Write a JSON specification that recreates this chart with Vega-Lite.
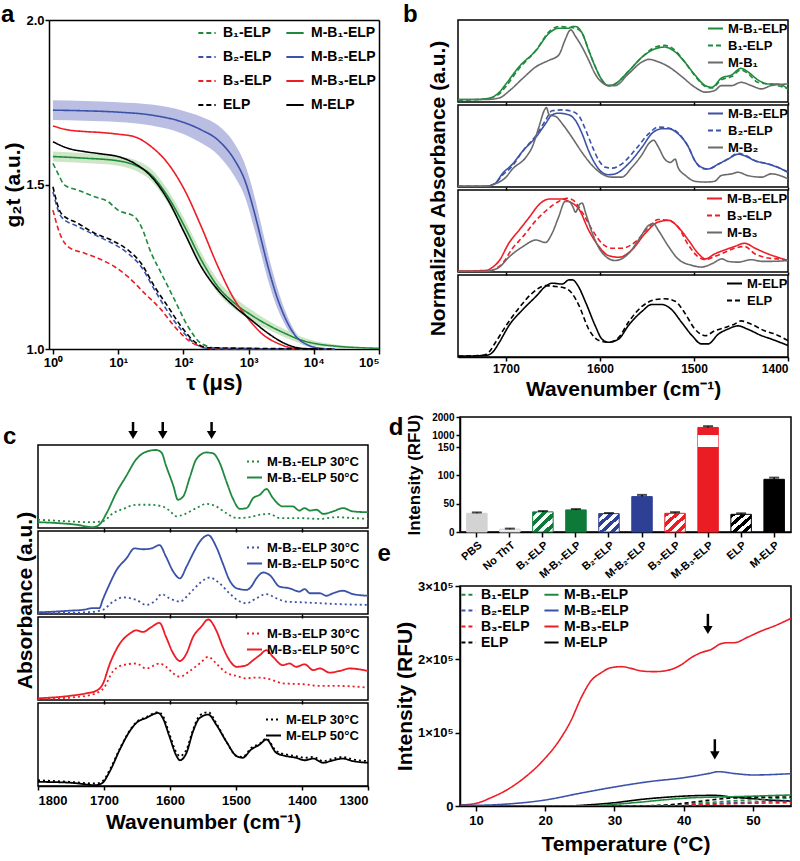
{
  "$schema": "https://vega.github.io/schema/vega-lite/v6.json",
  "background": "white",
  "padding": {"left": 0, "top": 2, "right": 0, "bottom": 0},
  "config": {
    "font": "Liberation Sans",
    "view": {"stroke": "#000000", "strokeWidth": 1.5},
    "axis": {"labelFont": "Liberation Sans", "titleFont": "Liberation Sans", "labelFontWeight": "bold", "titleFontWeight": "bold", "labelColor": "#000000", "titleColor": "#000000", "domainColor": "#000000", "tickColor": "#000000", "domainWidth": 1.5, "tickWidth": 1.5, "grid": false, "labelOverlap": false},
    "legend": {"labelFont": "Liberation Sans", "labelFontWeight": "bold", "labelColor": "#000000", "symbolType": "stroke", "symbolStrokeWidth": 2},
    "title": {"font": "Liberation Sans", "fontWeight": "bold", "fontSize": 24, "anchor": "start", "frame": "bounds", "offset": 0, "color": "#000000"}
  },
  "datasets": {
    "aL": [
      {"s":"B₁-ELP","t":1,"g":1.564},{"s":"B₁-ELP","t":1.19,"g":1.534},{"s":"B₁-ELP","t":1.51,"g":1.498},{"s":"B₁-ELP","t":2.42,"g":1.483},{"s":"B₁-ELP","t":4.36,"g":1.463},{"s":"B₁-ELP","t":6.98,"g":1.448},{"s":"B₁-ELP","t":9.93,"g":1.422},{"s":"B₁-ELP","t":17.9,"g":1.402},{"s":"B₁-ELP","t":22.6,"g":1.372},{"s":"B₁-ELP","t":32.2,"g":1.291},{"s":"B₁-ELP","t":45.9,"g":1.23},{"s":"B₁-ELP","t":73.5,"g":1.149},{"s":"B₁-ELP","t":118,"g":1.068},{"s":"B₁-ELP","t":188,"g":1.017},{"s":"B₁-ELP","t":340,"g":1.002},{"s":"B₁-ELP","t":20900,"g":1.0},
      {"s":"M-B₁-ELP","t":1,"g":1.585},{"s":"M-B₁-ELP","t":3.06,"g":1.58},{"s":"M-B₁-ELP","t":9.93,"g":1.572},{"s":"M-B₁-ELP","t":17.9,"g":1.559},{"s":"M-B₁-ELP","t":32.2,"g":1.529},{"s":"M-B₁-ELP","t":58,"g":1.463},{"s":"M-B₁-ELP","t":104.5,"g":1.372},{"s":"M-B₁-ELP","t":188,"g":1.271},{"s":"M-B₁-ELP","t":340,"g":1.189},{"s":"M-B₁-ELP","t":611,"g":1.139},{"s":"M-B₁-ELP","t":1102,"g":1.103},{"s":"M-B₁-ELP","t":1985,"g":1.073},{"s":"M-B₁-ELP","t":3575,"g":1.048},{"s":"M-B₁-ELP","t":6440,"g":1.027},{"s":"M-B₁-ELP","t":11600,"g":1.015},{"s":"M-B₁-ELP","t":20900,"g":1.009},{"s":"M-B₁-ELP","t":100000,"g":1.002},
      {"s":"B₂-ELP","t":1,"g":1.478},{"s":"B₂-ELP","t":1.34,"g":1.402},{"s":"B₂-ELP","t":2.42,"g":1.372},{"s":"B₂-ELP","t":4.36,"g":1.347},{"s":"B₂-ELP","t":7.85,"g":1.323},{"s":"B₂-ELP","t":14.1,"g":1.291},{"s":"B₂-ELP","t":22.6,"g":1.25},{"s":"B₂-ELP","t":36.3,"g":1.179},{"s":"B₂-ELP","t":58,"g":1.113},{"s":"B₂-ELP","t":93,"g":1.058},{"s":"B₂-ELP","t":149,"g":1.017},{"s":"B₂-ELP","t":238,"g":1.002},{"s":"B₂-ELP","t":20900,"g":1.0},
      {"s":"M-B₂-ELP","t":1,"g":1.726},{"s":"M-B₂-ELP","t":3.06,"g":1.724},{"s":"M-B₂-ELP","t":9.93,"g":1.72},{"s":"M-B₂-ELP","t":32.2,"g":1.711},{"s":"M-B₂-ELP","t":93,"g":1.691},{"s":"M-B₂-ELP","t":188,"g":1.666},{"s":"M-B₂-ELP","t":340,"g":1.635},{"s":"M-B₂-ELP","t":611,"g":1.574},{"s":"M-B₂-ELP","t":871,"g":1.514},{"s":"M-B₂-ELP","t":1239,"g":1.412},{"s":"M-B₂-ELP","t":1568,"g":1.331},{"s":"M-B₂-ELP","t":1985,"g":1.25},{"s":"M-B₂-ELP","t":2825,"g":1.149},{"s":"M-B₂-ELP","t":3575,"g":1.098},{"s":"M-B₂-ELP","t":5090,"g":1.043},{"s":"M-B₂-ELP","t":8150,"g":1.012},{"s":"M-B₂-ELP","t":13000,"g":1.002},{"s":"M-B₂-ELP","t":20900,"g":1.0},
      {"s":"B₃-ELP","t":1,"g":1.422},{"s":"B₃-ELP","t":1.27,"g":1.352},{"s":"B₃-ELP","t":1.7,"g":1.311},{"s":"B₃-ELP","t":3.06,"g":1.291},{"s":"B₃-ELP","t":4.9,"g":1.276},{"s":"B₃-ELP","t":8.83,"g":1.25},{"s":"B₃-ELP","t":14.1,"g":1.22},{"s":"B₃-ELP","t":25.5,"g":1.169},{"s":"B₃-ELP","t":45.9,"g":1.119},{"s":"B₃-ELP","t":73.5,"g":1.068},{"s":"B₃-ELP","t":118,"g":1.027},{"s":"B₃-ELP","t":188,"g":1.007},{"s":"B₃-ELP","t":340,"g":1.0},{"s":"B₃-ELP","t":20900,"g":1.0},
      {"s":"M-B₃-ELP","t":1,"g":1.678},{"s":"M-B₃-ELP","t":1.7,"g":1.666},{"s":"M-B₃-ELP","t":3.06,"g":1.661},{"s":"M-B₃-ELP","t":5.51,"g":1.658},{"s":"M-B₃-ELP","t":9.93,"g":1.653},{"s":"M-B₃-ELP","t":17.9,"g":1.645},{"s":"M-B₃-ELP","t":32.2,"g":1.615},{"s":"M-B₃-ELP","t":58,"g":1.564},{"s":"M-B₃-ELP","t":104.5,"g":1.483},{"s":"M-B₃-ELP","t":188,"g":1.372},{"s":"M-B₃-ELP","t":340,"g":1.25},{"s":"M-B₃-ELP","t":611,"g":1.149},{"s":"M-B₃-ELP","t":979,"g":1.093},{"s":"M-B₃-ELP","t":1568,"g":1.048},{"s":"M-B₃-ELP","t":2825,"g":1.017},{"s":"M-B₃-ELP","t":5090,"g":1.002},{"s":"M-B₃-ELP","t":8150,"g":1.0},
      {"s":"ELP","t":1,"g":1.493},{"s":"ELP","t":1.34,"g":1.412},{"s":"ELP","t":2.42,"g":1.382},{"s":"ELP","t":4.36,"g":1.352},{"s":"ELP","t":7.85,"g":1.331},{"s":"ELP","t":14.1,"g":1.301},{"s":"ELP","t":22.6,"g":1.26},{"s":"ELP","t":36.3,"g":1.189},{"s":"ELP","t":58,"g":1.129},{"s":"ELP","t":93,"g":1.068},{"s":"ELP","t":149,"g":1.022},{"s":"ELP","t":238,"g":1.004},{"s":"ELP","t":20900,"g":1.0},
      {"s":"M-ELP","t":1,"g":1.63},{"s":"M-ELP","t":1.7,"g":1.61},{"s":"M-ELP","t":3.06,"g":1.6},{"s":"M-ELP","t":5.51,"g":1.593},{"s":"M-ELP","t":9.93,"g":1.585},{"s":"M-ELP","t":17.9,"g":1.564},{"s":"M-ELP","t":32.2,"g":1.524},{"s":"M-ELP","t":58,"g":1.453},{"s":"M-ELP","t":104.5,"g":1.352},{"s":"M-ELP","t":188,"g":1.25},{"s":"M-ELP","t":340,"g":1.179},{"s":"M-ELP","t":611,"g":1.129},{"s":"M-ELP","t":1102,"g":1.088},{"s":"M-ELP","t":1985,"g":1.048},{"s":"M-ELP","t":3575,"g":1.017},{"s":"M-ELP","t":6440,"g":1.002},{"s":"M-ELP","t":11600,"g":1.0}
    ],
    "aB": [
      {"s":"M-B₂-ELP","t":1,"lo":1.696,"hi":1.756},{"s":"M-B₂-ELP","t":3.06,"lo":1.694,"hi":1.754},{"s":"M-B₂-ELP","t":9.93,"lo":1.69,"hi":1.75},{"s":"M-B₂-ELP","t":32.2,"lo":1.679,"hi":1.743},{"s":"M-B₂-ELP","t":93,"lo":1.656,"hi":1.726},{"s":"M-B₂-ELP","t":188,"lo":1.626,"hi":1.706},{"s":"M-B₂-ELP","t":340,"lo":1.59,"hi":1.68},{"s":"M-B₂-ELP","t":611,"lo":1.524,"hi":1.624},{"s":"M-B₂-ELP","t":871,"lo":1.464,"hi":1.564},{"s":"M-B₂-ELP","t":1239,"lo":1.362,"hi":1.462},{"s":"M-B₂-ELP","t":1568,"lo":1.286,"hi":1.376},{"s":"M-B₂-ELP","t":1985,"lo":1.21,"hi":1.29},{"s":"M-B₂-ELP","t":2825,"lo":1.119,"hi":1.179},{"s":"M-B₂-ELP","t":3575,"lo":1.076,"hi":1.12},{"s":"M-B₂-ELP","t":5090,"lo":1.031,"hi":1.055},{"s":"M-B₂-ELP","t":8150,"lo":1.007,"hi":1.017},{"s":"M-B₂-ELP","t":13000,"lo":1.0,"hi":1.004},{"s":"M-B₂-ELP","t":20900,"lo":1.0,"hi":1.001},
      {"s":"M-B₁-ELP","t":1,"lo":1.57,"hi":1.6},{"s":"M-B₁-ELP","t":3.06,"lo":1.565,"hi":1.595},{"s":"M-B₁-ELP","t":9.93,"lo":1.557,"hi":1.587},{"s":"M-B₁-ELP","t":17.9,"lo":1.543,"hi":1.575},{"s":"M-B₁-ELP","t":32.2,"lo":1.511,"hi":1.547},{"s":"M-B₁-ELP","t":58,"lo":1.443,"hi":1.483},{"s":"M-B₁-ELP","t":104.5,"lo":1.35,"hi":1.394},{"s":"M-B₁-ELP","t":188,"lo":1.249,"hi":1.293},{"s":"M-B₁-ELP","t":340,"lo":1.169,"hi":1.209},{"s":"M-B₁-ELP","t":611,"lo":1.121,"hi":1.157},{"s":"M-B₁-ELP","t":1102,"lo":1.087,"hi":1.119},{"s":"M-B₁-ELP","t":1985,"lo":1.059,"hi":1.087},{"s":"M-B₁-ELP","t":3575,"lo":1.036,"hi":1.06},{"s":"M-B₁-ELP","t":6440,"lo":1.017,"hi":1.037},{"s":"M-B₁-ELP","t":11600,"lo":1.008,"hi":1.022},{"s":"M-B₁-ELP","t":20900,"lo":1.004,"hi":1.014},{"s":"M-B₁-ELP","t":100000,"lo":1.0,"hi":1.004}
    ],
    "b1": [
      {"s":"M-B₁-ELP","w":1751,"v":0.03},{"s":"M-B₁-ELP","w":1732,"v":0.03},{"s":"M-B₁-ELP","w":1721,"v":0.04},{"s":"M-B₁-ELP","w":1714,"v":0.06},{"s":"M-B₁-ELP","w":1707,"v":0.12},{"s":"M-B₁-ELP","w":1700,"v":0.22},{"s":"M-B₁-ELP","w":1686,"v":0.43},{"s":"M-B₁-ELP","w":1668,"v":0.63},{"s":"M-B₁-ELP","w":1654,"v":0.84},{"s":"M-B₁-ELP","w":1644,"v":0.9},{"s":"M-B₁-ELP","w":1633,"v":0.9},{"s":"M-B₁-ELP","w":1629,"v":0.92},{"s":"M-B₁-ELP","w":1626,"v":0.92},{"s":"M-B₁-ELP","w":1619,"v":0.84},{"s":"M-B₁-ELP","w":1612,"v":0.63},{"s":"M-B₁-ELP","w":1605,"v":0.43},{"s":"M-B₁-ELP","w":1598,"v":0.27},{"s":"M-B₁-ELP","w":1591,"v":0.2},{"s":"M-B₁-ELP","w":1584,"v":0.22},{"s":"M-B₁-ELP","w":1570,"v":0.37},{"s":"M-B₁-ELP","w":1555,"v":0.55},{"s":"M-B₁-ELP","w":1541,"v":0.65},{"s":"M-B₁-ELP","w":1531,"v":0.67},{"s":"M-B₁-ELP","w":1520,"v":0.61},{"s":"M-B₁-ELP","w":1510,"v":0.49},{"s":"M-B₁-ELP","w":1499,"v":0.33},{"s":"M-B₁-ELP","w":1488,"v":0.2},{"s":"M-B₁-ELP","w":1481,"v":0.18},{"s":"M-B₁-ELP","w":1471,"v":0.29},{"s":"M-B₁-ELP","w":1460,"v":0.33},{"s":"M-B₁-ELP","w":1450,"v":0.41},{"s":"M-B₁-ELP","w":1443,"v":0.37},{"s":"M-B₁-ELP","w":1432,"v":0.27},{"s":"M-B₁-ELP","w":1421,"v":0.22},{"s":"M-B₁-ELP","w":1411,"v":0.22},{"s":"M-B₁-ELP","w":1400,"v":0.16},
      {"s":"B₁-ELP","w":1751,"v":0.02},{"s":"B₁-ELP","w":1721,"v":0.04},{"s":"B₁-ELP","w":1707,"v":0.1},{"s":"B₁-ELP","w":1700,"v":0.19},{"s":"B₁-ELP","w":1686,"v":0.41},{"s":"B₁-ELP","w":1668,"v":0.63},{"s":"B₁-ELP","w":1654,"v":0.86},{"s":"B₁-ELP","w":1644,"v":0.92},{"s":"B₁-ELP","w":1633,"v":0.91},{"s":"B₁-ELP","w":1626,"v":0.9},{"s":"B₁-ELP","w":1619,"v":0.84},{"s":"B₁-ELP","w":1612,"v":0.63},{"s":"B₁-ELP","w":1605,"v":0.43},{"s":"B₁-ELP","w":1598,"v":0.27},{"s":"B₁-ELP","w":1591,"v":0.2},{"s":"B₁-ELP","w":1584,"v":0.22},{"s":"B₁-ELP","w":1570,"v":0.37},{"s":"B₁-ELP","w":1555,"v":0.55},{"s":"B₁-ELP","w":1541,"v":0.67},{"s":"B₁-ELP","w":1531,"v":0.69},{"s":"B₁-ELP","w":1520,"v":0.63},{"s":"B₁-ELP","w":1510,"v":0.49},{"s":"B₁-ELP","w":1499,"v":0.32},{"s":"B₁-ELP","w":1488,"v":0.19},{"s":"B₁-ELP","w":1481,"v":0.17},{"s":"B₁-ELP","w":1471,"v":0.27},{"s":"B₁-ELP","w":1460,"v":0.31},{"s":"B₁-ELP","w":1450,"v":0.39},{"s":"B₁-ELP","w":1443,"v":0.35},{"s":"B₁-ELP","w":1432,"v":0.24},{"s":"B₁-ELP","w":1421,"v":0.22},{"s":"B₁-ELP","w":1411,"v":0.2},{"s":"B₁-ELP","w":1400,"v":0.16},
      {"s":"M-B₁","w":1751,"v":0.03},{"s":"M-B₁","w":1721,"v":0.03},{"s":"M-B₁","w":1707,"v":0.05},{"s":"M-B₁","w":1696,"v":0.14},{"s":"M-B₁","w":1682,"v":0.29},{"s":"M-B₁","w":1668,"v":0.43},{"s":"M-B₁","w":1654,"v":0.51},{"s":"M-B₁","w":1644,"v":0.57},{"s":"M-B₁","w":1637,"v":0.76},{"s":"M-B₁","w":1633,"v":0.86},{"s":"M-B₁","w":1631,"v":0.88},{"s":"M-B₁","w":1626,"v":0.8},{"s":"M-B₁","w":1619,"v":0.67},{"s":"M-B₁","w":1612,"v":0.51},{"s":"M-B₁","w":1605,"v":0.34},{"s":"M-B₁","w":1598,"v":0.24},{"s":"M-B₁","w":1591,"v":0.2},{"s":"M-B₁","w":1584,"v":0.2},{"s":"M-B₁","w":1570,"v":0.34},{"s":"M-B₁","w":1555,"v":0.49},{"s":"M-B₁","w":1548,"v":0.52},{"s":"M-B₁","w":1538,"v":0.49},{"s":"M-B₁","w":1527,"v":0.43},{"s":"M-B₁","w":1513,"v":0.31},{"s":"M-B₁","w":1499,"v":0.18},{"s":"M-B₁","w":1488,"v":0.12},{"s":"M-B₁","w":1478,"v":0.14},{"s":"M-B₁","w":1471,"v":0.2},{"s":"M-B₁","w":1460,"v":0.2},{"s":"M-B₁","w":1450,"v":0.24},{"s":"M-B₁","w":1439,"v":0.2},{"s":"M-B₁","w":1428,"v":0.16},{"s":"M-B₁","w":1418,"v":0.2},{"s":"M-B₁","w":1400,"v":0.22}
    ],
    "b2": [
      {"s":"M-B₂-ELP","w":1751,"v":0.01},{"s":"M-B₂-ELP","w":1721,"v":0.01},{"s":"M-B₂-ELP","w":1711,"v":0.05},{"s":"M-B₂-ELP","w":1704,"v":0.16},{"s":"M-B₂-ELP","w":1693,"v":0.28},{"s":"M-B₂-ELP","w":1682,"v":0.44},{"s":"M-B₂-ELP","w":1668,"v":0.61},{"s":"M-B₂-ELP","w":1658,"v":0.77},{"s":"M-B₂-ELP","w":1651,"v":0.88},{"s":"M-B₂-ELP","w":1644,"v":0.9},{"s":"M-B₂-ELP","w":1633,"v":0.88},{"s":"M-B₂-ELP","w":1626,"v":0.81},{"s":"M-B₂-ELP","w":1619,"v":0.65},{"s":"M-B₂-ELP","w":1612,"v":0.44},{"s":"M-B₂-ELP","w":1605,"v":0.28},{"s":"M-B₂-ELP","w":1598,"v":0.18},{"s":"M-B₂-ELP","w":1591,"v":0.15},{"s":"M-B₂-ELP","w":1584,"v":0.16},{"s":"M-B₂-ELP","w":1570,"v":0.28},{"s":"M-B₂-ELP","w":1555,"v":0.49},{"s":"M-B₂-ELP","w":1545,"v":0.65},{"s":"M-B₂-ELP","w":1534,"v":0.71},{"s":"M-B₂-ELP","w":1527,"v":0.71},{"s":"M-B₂-ELP","w":1517,"v":0.65},{"s":"M-B₂-ELP","w":1506,"v":0.49},{"s":"M-B₂-ELP","w":1499,"v":0.32},{"s":"M-B₂-ELP","w":1492,"v":0.24},{"s":"M-B₂-ELP","w":1485,"v":0.22},{"s":"M-B₂-ELP","w":1474,"v":0.28},{"s":"M-B₂-ELP","w":1464,"v":0.34},{"s":"M-B₂-ELP","w":1453,"v":0.4},{"s":"M-B₂-ELP","w":1446,"v":0.38},{"s":"M-B₂-ELP","w":1435,"v":0.32},{"s":"M-B₂-ELP","w":1421,"v":0.28},{"s":"M-B₂-ELP","w":1411,"v":0.24},{"s":"M-B₂-ELP","w":1400,"v":0.18},
      {"s":"B₂-ELP","w":1751,"v":0.01},{"s":"B₂-ELP","w":1721,"v":0.01},{"s":"B₂-ELP","w":1711,"v":0.05},{"s":"B₂-ELP","w":1704,"v":0.14},{"s":"B₂-ELP","w":1693,"v":0.26},{"s":"B₂-ELP","w":1682,"v":0.44},{"s":"B₂-ELP","w":1668,"v":0.63},{"s":"B₂-ELP","w":1658,"v":0.81},{"s":"B₂-ELP","w":1651,"v":0.93},{"s":"B₂-ELP","w":1640,"v":0.94},{"s":"B₂-ELP","w":1629,"v":0.92},{"s":"B₂-ELP","w":1622,"v":0.86},{"s":"B₂-ELP","w":1615,"v":0.69},{"s":"B₂-ELP","w":1608,"v":0.49},{"s":"B₂-ELP","w":1601,"v":0.32},{"s":"B₂-ELP","w":1594,"v":0.24},{"s":"B₂-ELP","w":1587,"v":0.23},{"s":"B₂-ELP","w":1577,"v":0.28},{"s":"B₂-ELP","w":1562,"v":0.46},{"s":"B₂-ELP","w":1548,"v":0.65},{"s":"B₂-ELP","w":1538,"v":0.73},{"s":"B₂-ELP","w":1527,"v":0.72},{"s":"B₂-ELP","w":1517,"v":0.66},{"s":"B₂-ELP","w":1506,"v":0.49},{"s":"B₂-ELP","w":1499,"v":0.32},{"s":"B₂-ELP","w":1492,"v":0.23},{"s":"B₂-ELP","w":1485,"v":0.22},{"s":"B₂-ELP","w":1474,"v":0.28},{"s":"B₂-ELP","w":1464,"v":0.34},{"s":"B₂-ELP","w":1453,"v":0.41},{"s":"B₂-ELP","w":1446,"v":0.39},{"s":"B₂-ELP","w":1435,"v":0.32},{"s":"B₂-ELP","w":1421,"v":0.28},{"s":"B₂-ELP","w":1411,"v":0.24},{"s":"B₂-ELP","w":1400,"v":0.18},
      {"s":"M-B₂","w":1751,"v":0.01},{"s":"M-B₂","w":1721,"v":0.01},{"s":"M-B₂","w":1711,"v":0.04},{"s":"M-B₂","w":1700,"v":0.12},{"s":"M-B₂","w":1693,"v":0.22},{"s":"M-B₂","w":1679,"v":0.36},{"s":"M-B₂","w":1672,"v":0.49},{"s":"M-B₂","w":1665,"v":0.73},{"s":"M-B₂","w":1659,"v":0.94},{"s":"M-B₂","w":1657,"v":0.97},{"s":"M-B₂","w":1654,"v":0.88},{"s":"M-B₂","w":1647,"v":0.86},{"s":"M-B₂","w":1640,"v":0.77},{"s":"M-B₂","w":1630,"v":0.61},{"s":"M-B₂","w":1619,"v":0.42},{"s":"M-B₂","w":1608,"v":0.26},{"s":"M-B₂","w":1598,"v":0.16},{"s":"M-B₂","w":1587,"v":0.12},{"s":"M-B₂","w":1577,"v":0.12},{"s":"M-B₂","w":1566,"v":0.24},{"s":"M-B₂","w":1555,"v":0.4},{"s":"M-B₂","w":1548,"v":0.53},{"s":"M-B₂","w":1543,"v":0.57},{"s":"M-B₂","w":1538,"v":0.49},{"s":"M-B₂","w":1531,"v":0.34},{"s":"M-B₂","w":1525,"v":0.3},{"s":"M-B₂","w":1520,"v":0.34},{"s":"M-B₂","w":1517,"v":0.24},{"s":"M-B₂","w":1509,"v":0.14},{"s":"M-B₂","w":1499,"v":0.07},{"s":"M-B₂","w":1488,"v":0.06},{"s":"M-B₂","w":1478,"v":0.07},{"s":"M-B₂","w":1471,"v":0.14},{"s":"M-B₂","w":1460,"v":0.16},{"s":"M-B₂","w":1453,"v":0.18},{"s":"M-B₂","w":1443,"v":0.14},{"s":"M-B₂","w":1428,"v":0.12},{"s":"M-B₂","w":1418,"v":0.16},{"s":"M-B₂","w":1400,"v":0.1}
    ],
    "b3": [
      {"s":"M-B₃-ELP","w":1751,"v":0.01},{"s":"M-B₃-ELP","w":1721,"v":0.02},{"s":"M-B₃-ELP","w":1714,"v":0.06},{"s":"M-B₃-ELP","w":1707,"v":0.14},{"s":"M-B₃-ELP","w":1697,"v":0.35},{"s":"M-B₃-ELP","w":1686,"v":0.51},{"s":"M-B₃-ELP","w":1675,"v":0.67},{"s":"M-B₃-ELP","w":1665,"v":0.82},{"s":"M-B₃-ELP","w":1654,"v":0.89},{"s":"M-B₃-ELP","w":1640,"v":0.89},{"s":"M-B₃-ELP","w":1633,"v":0.86},{"s":"M-B₃-ELP","w":1622,"v":0.76},{"s":"M-B₃-ELP","w":1612,"v":0.51},{"s":"M-B₃-ELP","w":1601,"v":0.31},{"s":"M-B₃-ELP","w":1591,"v":0.2},{"s":"M-B₃-ELP","w":1580,"v":0.18},{"s":"M-B₃-ELP","w":1566,"v":0.27},{"s":"M-B₃-ELP","w":1552,"v":0.47},{"s":"M-B₃-ELP","w":1538,"v":0.61},{"s":"M-B₃-ELP","w":1527,"v":0.63},{"s":"M-B₃-ELP","w":1517,"v":0.55},{"s":"M-B₃-ELP","w":1506,"v":0.39},{"s":"M-B₃-ELP","w":1495,"v":0.22},{"s":"M-B₃-ELP","w":1488,"v":0.16},{"s":"M-B₃-ELP","w":1478,"v":0.22},{"s":"M-B₃-ELP","w":1467,"v":0.27},{"s":"M-B₃-ELP","w":1457,"v":0.31},{"s":"M-B₃-ELP","w":1446,"v":0.35},{"s":"M-B₃-ELP","w":1435,"v":0.29},{"s":"M-B₃-ELP","w":1421,"v":0.22},{"s":"M-B₃-ELP","w":1411,"v":0.18},{"s":"M-B₃-ELP","w":1400,"v":0.14},
      {"s":"B₃-ELP","w":1751,"v":0.01},{"s":"B₃-ELP","w":1721,"v":0.01},{"s":"B₃-ELP","w":1711,"v":0.04},{"s":"B₃-ELP","w":1704,"v":0.1},{"s":"B₃-ELP","w":1693,"v":0.29},{"s":"B₃-ELP","w":1682,"v":0.43},{"s":"B₃-ELP","w":1668,"v":0.63},{"s":"B₃-ELP","w":1654,"v":0.78},{"s":"B₃-ELP","w":1644,"v":0.86},{"s":"B₃-ELP","w":1635,"v":0.9},{"s":"B₃-ELP","w":1629,"v":0.88},{"s":"B₃-ELP","w":1619,"v":0.73},{"s":"B₃-ELP","w":1608,"v":0.51},{"s":"B₃-ELP","w":1598,"v":0.35},{"s":"B₃-ELP","w":1587,"v":0.29},{"s":"B₃-ELP","w":1577,"v":0.29},{"s":"B₃-ELP","w":1562,"v":0.37},{"s":"B₃-ELP","w":1548,"v":0.55},{"s":"B₃-ELP","w":1538,"v":0.64},{"s":"B₃-ELP","w":1527,"v":0.63},{"s":"B₃-ELP","w":1517,"v":0.55},{"s":"B₃-ELP","w":1506,"v":0.33},{"s":"B₃-ELP","w":1495,"v":0.18},{"s":"B₃-ELP","w":1488,"v":0.15},{"s":"B₃-ELP","w":1478,"v":0.19},{"s":"B₃-ELP","w":1467,"v":0.24},{"s":"B₃-ELP","w":1457,"v":0.29},{"s":"B₃-ELP","w":1446,"v":0.31},{"s":"B₃-ELP","w":1435,"v":0.22},{"s":"B₃-ELP","w":1421,"v":0.17},{"s":"B₃-ELP","w":1411,"v":0.16},{"s":"B₃-ELP","w":1400,"v":0.14},
      {"s":"M-B₃","w":1751,"v":0.01},{"s":"M-B₃","w":1721,"v":0.01},{"s":"M-B₃","w":1707,"v":0.06},{"s":"M-B₃","w":1697,"v":0.18},{"s":"M-B₃","w":1682,"v":0.31},{"s":"M-B₃","w":1668,"v":0.39},{"s":"M-B₃","w":1658,"v":0.36},{"s":"M-B₃","w":1651,"v":0.47},{"s":"M-B₃","w":1644,"v":0.67},{"s":"M-B₃","w":1637,"v":0.86},{"s":"M-B₃","w":1633,"v":0.86},{"s":"M-B₃","w":1629,"v":0.8},{"s":"M-B₃","w":1626,"v":0.73},{"s":"M-B₃","w":1622,"v":0.82},{"s":"M-B₃","w":1619,"v":0.84},{"s":"M-B₃","w":1615,"v":0.71},{"s":"M-B₃","w":1608,"v":0.47},{"s":"M-B₃","w":1598,"v":0.24},{"s":"M-B₃","w":1584,"v":0.14},{"s":"M-B₃","w":1570,"v":0.22},{"s":"M-B₃","w":1559,"v":0.39},{"s":"M-B₃","w":1548,"v":0.57},{"s":"M-B₃","w":1543,"v":0.59},{"s":"M-B₃","w":1538,"v":0.51},{"s":"M-B₃","w":1527,"v":0.31},{"s":"M-B₃","w":1517,"v":0.16},{"s":"M-B₃","w":1502,"v":0.08},{"s":"M-B₃","w":1492,"v":0.06},{"s":"M-B₃","w":1481,"v":0.1},{"s":"M-B₃","w":1470,"v":0.16},{"s":"M-B₃","w":1464,"v":0.13},{"s":"M-B₃","w":1453,"v":0.12},{"s":"M-B₃","w":1439,"v":0.15},{"s":"M-B₃","w":1428,"v":0.13},{"s":"M-B₃","w":1418,"v":0.13},{"s":"M-B₃","w":1400,"v":0.14}
    ],
    "b4": [
      {"s":"M-ELP","w":1751,"v":0.01},{"s":"M-ELP","w":1721,"v":0.02},{"s":"M-ELP","w":1714,"v":0.06},{"s":"M-ELP","w":1707,"v":0.18},{"s":"M-ELP","w":1697,"v":0.38},{"s":"M-ELP","w":1682,"v":0.58},{"s":"M-ELP","w":1668,"v":0.74},{"s":"M-ELP","w":1658,"v":0.86},{"s":"M-ELP","w":1651,"v":0.9},{"s":"M-ELP","w":1640,"v":0.89},{"s":"M-ELP","w":1633,"v":0.94},{"s":"M-ELP","w":1629,"v":0.94},{"s":"M-ELP","w":1624,"v":0.88},{"s":"M-ELP","w":1615,"v":0.66},{"s":"M-ELP","w":1605,"v":0.38},{"s":"M-ELP","w":1598,"v":0.22},{"s":"M-ELP","w":1591,"v":0.18},{"s":"M-ELP","w":1580,"v":0.22},{"s":"M-ELP","w":1570,"v":0.38},{"s":"M-ELP","w":1555,"v":0.56},{"s":"M-ELP","w":1545,"v":0.64},{"s":"M-ELP","w":1534,"v":0.64},{"s":"M-ELP","w":1524,"v":0.58},{"s":"M-ELP","w":1513,"v":0.42},{"s":"M-ELP","w":1502,"v":0.26},{"s":"M-ELP","w":1492,"v":0.16},{"s":"M-ELP","w":1485,"v":0.16},{"s":"M-ELP","w":1474,"v":0.28},{"s":"M-ELP","w":1464,"v":0.34},{"s":"M-ELP","w":1453,"v":0.38},{"s":"M-ELP","w":1443,"v":0.34},{"s":"M-ELP","w":1428,"v":0.26},{"s":"M-ELP","w":1418,"v":0.22},{"s":"M-ELP","w":1400,"v":0.14},
      {"s":"ELP","w":1751,"v":0.01},{"s":"ELP","w":1725,"v":0.02},{"s":"ELP","w":1718,"v":0.06},{"s":"ELP","w":1711,"v":0.18},{"s":"ELP","w":1700,"v":0.38},{"s":"ELP","w":1686,"v":0.6},{"s":"ELP","w":1672,"v":0.78},{"s":"ELP","w":1658,"v":0.87},{"s":"ELP","w":1647,"v":0.86},{"s":"ELP","w":1637,"v":0.84},{"s":"ELP","w":1630,"v":0.78},{"s":"ELP","w":1622,"v":0.62},{"s":"ELP","w":1612,"v":0.34},{"s":"ELP","w":1601,"v":0.2},{"s":"ELP","w":1591,"v":0.18},{"s":"ELP","w":1580,"v":0.24},{"s":"ELP","w":1570,"v":0.42},{"s":"ELP","w":1555,"v":0.62},{"s":"ELP","w":1541,"v":0.7},{"s":"ELP","w":1531,"v":0.71},{"s":"ELP","w":1520,"v":0.68},{"s":"ELP","w":1510,"v":0.54},{"s":"ELP","w":1499,"v":0.34},{"s":"ELP","w":1488,"v":0.26},{"s":"ELP","w":1478,"v":0.32},{"s":"ELP","w":1467,"v":0.36},{"s":"ELP","w":1457,"v":0.4},{"s":"ELP","w":1450,"v":0.44},{"s":"ELP","w":1439,"v":0.4},{"s":"ELP","w":1425,"v":0.32},{"s":"ELP","w":1414,"v":0.28},{"s":"ELP","w":1400,"v":0.2}
    ],
    "cA": [
      {"w":1656,"y1":0.8,"y2":0.28},{"w":1611,"y1":0.8,"y2":0.28},{"w":1537,"y1":0.8,"y2":0.28}
    ],
    "c1": [
      {"s":"M-B₁-ELP 30°C","w":1800,"v":0.1},{"s":"M-B₁-ELP 30°C","w":1752,"v":0.08},{"s":"M-B₁-ELP 30°C","w":1722,"v":0.07},{"s":"M-B₁-ELP 30°C","w":1702,"v":0.08},{"s":"M-B₁-ELP 30°C","w":1686,"v":0.18},{"s":"M-B₁-ELP 30°C","w":1671,"v":0.23},{"s":"M-B₁-ELP 30°C","w":1651,"v":0.28},{"s":"M-B₁-ELP 30°C","w":1631,"v":0.28},{"s":"M-B₁-ELP 30°C","w":1611,"v":0.26},{"s":"M-B₁-ELP 30°C","w":1601,"v":0.21},{"s":"M-B₁-ELP 30°C","w":1590,"v":0.14},{"s":"M-B₁-ELP 30°C","w":1580,"v":0.16},{"s":"M-B₁-ELP 30°C","w":1560,"v":0.24},{"s":"M-B₁-ELP 30°C","w":1545,"v":0.29},{"s":"M-B₁-ELP 30°C","w":1530,"v":0.26},{"s":"M-B₁-ELP 30°C","w":1515,"v":0.18},{"s":"M-B₁-ELP 30°C","w":1499,"v":0.12},{"s":"M-B₁-ELP 30°C","w":1479,"v":0.13},{"s":"M-B₁-ELP 30°C","w":1464,"v":0.16},{"s":"M-B₁-ELP 30°C","w":1449,"v":0.17},{"s":"M-B₁-ELP 30°C","w":1434,"v":0.12},{"s":"M-B₁-ELP 30°C","w":1409,"v":0.12},{"s":"M-B₁-ELP 30°C","w":1373,"v":0.11},{"s":"M-B₁-ELP 30°C","w":1348,"v":0.13},{"s":"M-B₁-ELP 30°C","w":1323,"v":0.12},{"s":"M-B₁-ELP 30°C","w":1300,"v":0.11},
      {"s":"M-B₁-ELP 50°C","w":1800,"v":0.07},{"s":"M-B₁-ELP 50°C","w":1772,"v":0.06},{"s":"M-B₁-ELP 50°C","w":1742,"v":0.04},{"s":"M-B₁-ELP 50°C","w":1717,"v":0.01},{"s":"M-B₁-ELP 50°C","w":1707,"v":0.04},{"s":"M-B₁-ELP 50°C","w":1696,"v":0.18},{"s":"M-B₁-ELP 50°C","w":1681,"v":0.43},{"s":"M-B₁-ELP 50°C","w":1666,"v":0.63},{"s":"M-B₁-ELP 50°C","w":1651,"v":0.83},{"s":"M-B₁-ELP 50°C","w":1641,"v":0.9},{"s":"M-B₁-ELP 50°C","w":1631,"v":0.93},{"s":"M-B₁-ELP 50°C","w":1621,"v":0.94},{"s":"M-B₁-ELP 50°C","w":1613,"v":0.91},{"s":"M-B₁-ELP 50°C","w":1606,"v":0.75},{"s":"M-B₁-ELP 50°C","w":1595,"v":0.51},{"s":"M-B₁-ELP 50°C","w":1588,"v":0.34},{"s":"M-B₁-ELP 50°C","w":1580,"v":0.38},{"s":"M-B₁-ELP 50°C","w":1570,"v":0.61},{"s":"M-B₁-ELP 50°C","w":1560,"v":0.83},{"s":"M-B₁-ELP 50°C","w":1545,"v":0.91},{"s":"M-B₁-ELP 50°C","w":1535,"v":0.9},{"s":"M-B₁-ELP 50°C","w":1525,"v":0.79},{"s":"M-B₁-ELP 50°C","w":1515,"v":0.57},{"s":"M-B₁-ELP 50°C","w":1505,"v":0.36},{"s":"M-B₁-ELP 50°C","w":1494,"v":0.23},{"s":"M-B₁-ELP 50°C","w":1484,"v":0.24},{"s":"M-B₁-ELP 50°C","w":1474,"v":0.36},{"s":"M-B₁-ELP 50°C","w":1464,"v":0.4},{"s":"M-B₁-ELP 50°C","w":1454,"v":0.47},{"s":"M-B₁-ELP 50°C","w":1444,"v":0.36},{"s":"M-B₁-ELP 50°C","w":1429,"v":0.26},{"s":"M-B₁-ELP 50°C","w":1414,"v":0.26},{"s":"M-B₁-ELP 50°C","w":1404,"v":0.21},{"s":"M-B₁-ELP 50°C","w":1396,"v":0.24},{"s":"M-B₁-ELP 50°C","w":1388,"v":0.21},{"s":"M-B₁-ELP 50°C","w":1378,"v":0.22},{"s":"M-B₁-ELP 50°C","w":1368,"v":0.17},{"s":"M-B₁-ELP 50°C","w":1353,"v":0.2},{"s":"M-B₁-ELP 50°C","w":1338,"v":0.24},{"s":"M-B₁-ELP 50°C","w":1323,"v":0.2},{"s":"M-B₁-ELP 50°C","w":1300,"v":0.19}
    ],
    "c2": [
      {"s":"M-B₂-ELP 30°C","w":1800,"v":0.01},{"s":"M-B₂-ELP 30°C","w":1727,"v":0.02},{"s":"M-B₂-ELP 30°C","w":1702,"v":0.05},{"s":"M-B₂-ELP 30°C","w":1686,"v":0.15},{"s":"M-B₂-ELP 30°C","w":1671,"v":0.2},{"s":"M-B₂-ELP 30°C","w":1651,"v":0.17},{"s":"M-B₂-ELP 30°C","w":1636,"v":0.11},{"s":"M-B₂-ELP 30°C","w":1621,"v":0.17},{"s":"M-B₂-ELP 30°C","w":1613,"v":0.24},{"s":"M-B₂-ELP 30°C","w":1601,"v":0.19},{"s":"M-B₂-ELP 30°C","w":1585,"v":0.15},{"s":"M-B₂-ELP 30°C","w":1570,"v":0.25},{"s":"M-B₂-ELP 30°C","w":1555,"v":0.37},{"s":"M-B₂-ELP 30°C","w":1540,"v":0.44},{"s":"M-B₂-ELP 30°C","w":1525,"v":0.37},{"s":"M-B₂-ELP 30°C","w":1510,"v":0.25},{"s":"M-B₂-ELP 30°C","w":1494,"v":0.15},{"s":"M-B₂-ELP 30°C","w":1484,"v":0.13},{"s":"M-B₂-ELP 30°C","w":1469,"v":0.19},{"s":"M-B₂-ELP 30°C","w":1454,"v":0.24},{"s":"M-B₂-ELP 30°C","w":1439,"v":0.19},{"s":"M-B₂-ELP 30°C","w":1424,"v":0.15},{"s":"M-B₂-ELP 30°C","w":1398,"v":0.14},{"s":"M-B₂-ELP 30°C","w":1373,"v":0.13},{"s":"M-B₂-ELP 30°C","w":1348,"v":0.12},{"s":"M-B₂-ELP 30°C","w":1300,"v":0.11},
      {"s":"M-B₂-ELP 50°C","w":1800,"v":0.02},{"s":"M-B₂-ELP 50°C","w":1772,"v":0.03},{"s":"M-B₂-ELP 50°C","w":1752,"v":0.04},{"s":"M-B₂-ELP 50°C","w":1732,"v":0.05},{"s":"M-B₂-ELP 50°C","w":1717,"v":0.07},{"s":"M-B₂-ELP 50°C","w":1707,"v":0.07},{"s":"M-B₂-ELP 50°C","w":1702,"v":0.17},{"s":"M-B₂-ELP 50°C","w":1691,"v":0.37},{"s":"M-B₂-ELP 50°C","w":1681,"v":0.53},{"s":"M-B₂-ELP 50°C","w":1666,"v":0.67},{"s":"M-B₂-ELP 50°C","w":1654,"v":0.79},{"s":"M-B₂-ELP 50°C","w":1641,"v":0.78},{"s":"M-B₂-ELP 50°C","w":1628,"v":0.79},{"s":"M-B₂-ELP 50°C","w":1616,"v":0.83},{"s":"M-B₂-ELP 50°C","w":1606,"v":0.69},{"s":"M-B₂-ELP 50°C","w":1595,"v":0.51},{"s":"M-B₂-ELP 50°C","w":1585,"v":0.43},{"s":"M-B₂-ELP 50°C","w":1575,"v":0.57},{"s":"M-B₂-ELP 50°C","w":1565,"v":0.73},{"s":"M-B₂-ELP 50°C","w":1555,"v":0.87},{"s":"M-B₂-ELP 50°C","w":1542,"v":0.95},{"s":"M-B₂-ELP 50°C","w":1530,"v":0.81},{"s":"M-B₂-ELP 50°C","w":1520,"v":0.61},{"s":"M-B₂-ELP 50°C","w":1510,"v":0.41},{"s":"M-B₂-ELP 50°C","w":1499,"v":0.31},{"s":"M-B₂-ELP 50°C","w":1484,"v":0.29},{"s":"M-B₂-ELP 50°C","w":1477,"v":0.33},{"s":"M-B₂-ELP 50°C","w":1469,"v":0.43},{"s":"M-B₂-ELP 50°C","w":1459,"v":0.5},{"s":"M-B₂-ELP 50°C","w":1449,"v":0.47},{"s":"M-B₂-ELP 50°C","w":1434,"v":0.33},{"s":"M-B₂-ELP 50°C","w":1419,"v":0.31},{"s":"M-B₂-ELP 50°C","w":1404,"v":0.27},{"s":"M-B₂-ELP 50°C","w":1396,"v":0.3},{"s":"M-B₂-ELP 50°C","w":1388,"v":0.25},{"s":"M-B₂-ELP 50°C","w":1373,"v":0.25},{"s":"M-B₂-ELP 50°C","w":1363,"v":0.22},{"s":"M-B₂-ELP 50°C","w":1353,"v":0.25},{"s":"M-B₂-ELP 50°C","w":1338,"v":0.28},{"s":"M-B₂-ELP 50°C","w":1323,"v":0.24},{"s":"M-B₂-ELP 50°C","w":1300,"v":0.22}
    ],
    "c3": [
      {"s":"M-B₃-ELP 30°C","w":1800,"v":0.01},{"s":"M-B₃-ELP 30°C","w":1727,"v":0.05},{"s":"M-B₃-ELP 30°C","w":1702,"v":0.13},{"s":"M-B₃-ELP 30°C","w":1686,"v":0.35},{"s":"M-B₃-ELP 30°C","w":1671,"v":0.42},{"s":"M-B₃-ELP 30°C","w":1651,"v":0.44},{"s":"M-B₃-ELP 30°C","w":1636,"v":0.38},{"s":"M-B₃-ELP 30°C","w":1616,"v":0.44},{"s":"M-B₃-ELP 30°C","w":1606,"v":0.4},{"s":"M-B₃-ELP 30°C","w":1595,"v":0.32},{"s":"M-B₃-ELP 30°C","w":1585,"v":0.28},{"s":"M-B₃-ELP 30°C","w":1570,"v":0.35},{"s":"M-B₃-ELP 30°C","w":1555,"v":0.44},{"s":"M-B₃-ELP 30°C","w":1542,"v":0.52},{"s":"M-B₃-ELP 30°C","w":1530,"v":0.44},{"s":"M-B₃-ELP 30°C","w":1515,"v":0.33},{"s":"M-B₃-ELP 30°C","w":1499,"v":0.29},{"s":"M-B₃-ELP 30°C","w":1484,"v":0.26},{"s":"M-B₃-ELP 30°C","w":1474,"v":0.27},{"s":"M-B₃-ELP 30°C","w":1464,"v":0.27},{"s":"M-B₃-ELP 30°C","w":1449,"v":0.25},{"s":"M-B₃-ELP 30°C","w":1429,"v":0.2},{"s":"M-B₃-ELP 30°C","w":1398,"v":0.19},{"s":"M-B₃-ELP 30°C","w":1373,"v":0.17},{"s":"M-B₃-ELP 30°C","w":1348,"v":0.17},{"s":"M-B₃-ELP 30°C","w":1300,"v":0.15},
      {"s":"M-B₃-ELP 50°C","w":1800,"v":0.02},{"s":"M-B₃-ELP 50°C","w":1752,"v":0.05},{"s":"M-B₃-ELP 50°C","w":1727,"v":0.08},{"s":"M-B₃-ELP 50°C","w":1712,"v":0.11},{"s":"M-B₃-ELP 50°C","w":1702,"v":0.19},{"s":"M-B₃-ELP 50°C","w":1691,"v":0.44},{"s":"M-B₃-ELP 50°C","w":1676,"v":0.68},{"s":"M-B₃-ELP 50°C","w":1661,"v":0.8},{"s":"M-B₃-ELP 50°C","w":1651,"v":0.84},{"s":"M-B₃-ELP 50°C","w":1641,"v":0.82},{"s":"M-B₃-ELP 50°C","w":1628,"v":0.88},{"s":"M-B₃-ELP 50°C","w":1616,"v":0.93},{"s":"M-B₃-ELP 50°C","w":1606,"v":0.76},{"s":"M-B₃-ELP 50°C","w":1595,"v":0.56},{"s":"M-B₃-ELP 50°C","w":1585,"v":0.47},{"s":"M-B₃-ELP 50°C","w":1575,"v":0.56},{"s":"M-B₃-ELP 50°C","w":1565,"v":0.76},{"s":"M-B₃-ELP 50°C","w":1553,"v":0.88},{"s":"M-B₃-ELP 50°C","w":1542,"v":0.97},{"s":"M-B₃-ELP 50°C","w":1530,"v":0.84},{"s":"M-B₃-ELP 50°C","w":1520,"v":0.64},{"s":"M-B₃-ELP 50°C","w":1510,"v":0.48},{"s":"M-B₃-ELP 50°C","w":1499,"v":0.4},{"s":"M-B₃-ELP 50°C","w":1484,"v":0.42},{"s":"M-B₃-ELP 50°C","w":1474,"v":0.48},{"s":"M-B₃-ELP 50°C","w":1464,"v":0.54},{"s":"M-B₃-ELP 50°C","w":1454,"v":0.6},{"s":"M-B₃-ELP 50°C","w":1444,"v":0.52},{"s":"M-B₃-ELP 50°C","w":1429,"v":0.42},{"s":"M-B₃-ELP 50°C","w":1419,"v":0.44},{"s":"M-B₃-ELP 50°C","w":1409,"v":0.4},{"s":"M-B₃-ELP 50°C","w":1396,"v":0.43},{"s":"M-B₃-ELP 50°C","w":1383,"v":0.36},{"s":"M-B₃-ELP 50°C","w":1373,"v":0.38},{"s":"M-B₃-ELP 50°C","w":1358,"v":0.33},{"s":"M-B₃-ELP 50°C","w":1343,"v":0.35},{"s":"M-B₃-ELP 50°C","w":1328,"v":0.38},{"s":"M-B₃-ELP 50°C","w":1300,"v":0.35}
    ],
    "c4": [
      {"s":"M-ELP 30°C","w":1800,"v":0.07},{"s":"M-ELP 30°C","w":1752,"v":0.05},{"s":"M-ELP 30°C","w":1712,"v":0.03},{"s":"M-ELP 30°C","w":1702,"v":0.06},{"s":"M-ELP 30°C","w":1691,"v":0.2},{"s":"M-ELP 30°C","w":1676,"v":0.45},{"s":"M-ELP 30°C","w":1661,"v":0.67},{"s":"M-ELP 30°C","w":1651,"v":0.77},{"s":"M-ELP 30°C","w":1636,"v":0.83},{"s":"M-ELP 30°C","w":1618,"v":0.89},{"s":"M-ELP 30°C","w":1611,"v":0.85},{"s":"M-ELP 30°C","w":1601,"v":0.63},{"s":"M-ELP 30°C","w":1590,"v":0.4},{"s":"M-ELP 30°C","w":1585,"v":0.36},{"s":"M-ELP 30°C","w":1575,"v":0.44},{"s":"M-ELP 30°C","w":1565,"v":0.68},{"s":"M-ELP 30°C","w":1555,"v":0.85},{"s":"M-ELP 30°C","w":1542,"v":0.89},{"s":"M-ELP 30°C","w":1530,"v":0.76},{"s":"M-ELP 30°C","w":1515,"v":0.54},{"s":"M-ELP 30°C","w":1499,"v":0.36},{"s":"M-ELP 30°C","w":1490,"v":0.35},{"s":"M-ELP 30°C","w":1477,"v":0.46},{"s":"M-ELP 30°C","w":1464,"v":0.51},{"s":"M-ELP 30°C","w":1454,"v":0.57},{"s":"M-ELP 30°C","w":1439,"v":0.42},{"s":"M-ELP 30°C","w":1424,"v":0.38},{"s":"M-ELP 30°C","w":1409,"v":0.36},{"s":"M-ELP 30°C","w":1396,"v":0.34},{"s":"M-ELP 30°C","w":1383,"v":0.35},{"s":"M-ELP 30°C","w":1368,"v":0.3},{"s":"M-ELP 30°C","w":1353,"v":0.33},{"s":"M-ELP 30°C","w":1338,"v":0.35},{"s":"M-ELP 30°C","w":1323,"v":0.32},{"s":"M-ELP 30°C","w":1300,"v":0.3},
      {"s":"M-ELP 50°C","w":1800,"v":0.05},{"s":"M-ELP 50°C","w":1752,"v":0.04},{"s":"M-ELP 50°C","w":1712,"v":0.01},{"s":"M-ELP 50°C","w":1702,"v":0.04},{"s":"M-ELP 50°C","w":1691,"v":0.18},{"s":"M-ELP 50°C","w":1676,"v":0.44},{"s":"M-ELP 50°C","w":1661,"v":0.66},{"s":"M-ELP 50°C","w":1651,"v":0.76},{"s":"M-ELP 50°C","w":1636,"v":0.82},{"s":"M-ELP 50°C","w":1618,"v":0.88},{"s":"M-ELP 50°C","w":1611,"v":0.82},{"s":"M-ELP 50°C","w":1601,"v":0.6},{"s":"M-ELP 50°C","w":1590,"v":0.36},{"s":"M-ELP 50°C","w":1585,"v":0.31},{"s":"M-ELP 50°C","w":1575,"v":0.4},{"s":"M-ELP 50°C","w":1565,"v":0.66},{"s":"M-ELP 50°C","w":1555,"v":0.82},{"s":"M-ELP 50°C","w":1542,"v":0.86},{"s":"M-ELP 50°C","w":1530,"v":0.74},{"s":"M-ELP 50°C","w":1515,"v":0.54},{"s":"M-ELP 50°C","w":1499,"v":0.36},{"s":"M-ELP 50°C","w":1490,"v":0.34},{"s":"M-ELP 50°C","w":1477,"v":0.44},{"s":"M-ELP 50°C","w":1464,"v":0.5},{"s":"M-ELP 50°C","w":1454,"v":0.56},{"s":"M-ELP 50°C","w":1439,"v":0.4},{"s":"M-ELP 50°C","w":1424,"v":0.36},{"s":"M-ELP 50°C","w":1409,"v":0.34},{"s":"M-ELP 50°C","w":1396,"v":0.31},{"s":"M-ELP 50°C","w":1383,"v":0.33},{"s":"M-ELP 50°C","w":1368,"v":0.28},{"s":"M-ELP 50°C","w":1353,"v":0.31},{"s":"M-ELP 50°C","w":1338,"v":0.33},{"s":"M-ELP 50°C","w":1323,"v":0.3},{"s":"M-ELP 50°C","w":1300,"v":0.28}
    ],
    "d": [
      {"cat":"PBS","v":33,"hi":34.5},{"cat":"No ThT","v":5,"hi":6},{"cat":"B₁-ELP","v":35.5,"hi":37},{"cat":"M-B₁-ELP","v":39,"hi":40.5},{"cat":"B₂-ELP","v":32.4,"hi":33.5},{"cat":"M-B₂-ELP","v":62.5,"hi":65.5},{"cat":"B₃-ELP","v":33,"hi":35},{"cat":"M-B₃-ELP","v":1420,"hi":1490},{"cat":"ELP","v":31.2,"hi":33},{"cat":"M-ELP","v":93,"hi":96}
    ],
    "dGap": [{"cat":"M-B₃-ELP","lo":150,"hi":1000}],
    "e": [
      {"s":"M-B₃-ELP","T":7.8,"v":1400},{"s":"M-B₃-ELP","T":10,"v":3600},{"s":"M-B₃-ELP","T":12.2,"v":11400},{"s":"M-B₃-ELP","T":14.6,"v":22700},{"s":"M-B₃-ELP","T":17,"v":38600},{"s":"M-B₃-ELP","T":19.4,"v":59100},{"s":"M-B₃-ELP","T":22.3,"v":93200},{"s":"M-B₃-ELP","T":23.7,"v":115900},{"s":"M-B₃-ELP","T":25.2,"v":147700},{"s":"M-B₃-ELP","T":26.6,"v":170500},{"s":"M-B₃-ELP","T":28.1,"v":181800},{"s":"M-B₃-ELP","T":29.5,"v":188600},{"s":"M-B₃-ELP","T":31,"v":190000},{"s":"M-B₃-ELP","T":32.4,"v":187700},{"s":"M-B₃-ELP","T":33.9,"v":184100},{"s":"M-B₃-ELP","T":35.8,"v":183200},{"s":"M-B₃-ELP","T":37.7,"v":185000},{"s":"M-B₃-ELP","T":39.6,"v":192300},{"s":"M-B₃-ELP","T":41.1,"v":202300},{"s":"M-B₃-ELP","T":42.5,"v":209100},{"s":"M-B₃-ELP","T":44,"v":213600},{"s":"M-B₃-ELP","T":45.4,"v":221400},{"s":"M-B₃-ELP","T":46.4,"v":222700},{"s":"M-B₃-ELP","T":47.3,"v":222700},{"s":"M-B₃-ELP","T":49.3,"v":230500},{"s":"M-B₃-ELP","T":51.2,"v":238600},{"s":"M-B₃-ELP","T":53.1,"v":245500},{"s":"M-B₃-ELP","T":55.5,"v":255900},
      {"s":"M-B₂-ELP","T":7.8,"v":1400},{"s":"M-B₂-ELP","T":10,"v":1000},{"s":"M-B₂-ELP","T":15,"v":3000},{"s":"M-B₂-ELP","T":20,"v":8200},{"s":"M-B₂-ELP","T":25,"v":17300},{"s":"M-B₂-ELP","T":30,"v":25900},{"s":"M-B₂-ELP","T":35,"v":33200},{"s":"M-B₂-ELP","T":40,"v":38600},{"s":"M-B₂-ELP","T":43.5,"v":44100},{"s":"M-B₂-ELP","T":45,"v":46800},{"s":"M-B₂-ELP","T":47.5,"v":44100},{"s":"M-B₂-ELP","T":50,"v":42300},{"s":"M-B₂-ELP","T":55.5,"v":44100},
      {"s":"M-ELP","T":7.8,"v":0},{"s":"M-ELP","T":23,"v":0},{"s":"M-ELP","T":26,"v":1400},{"s":"M-ELP","T":30,"v":4500},{"s":"M-ELP","T":34,"v":9100},{"s":"M-ELP","T":38,"v":12300},{"s":"M-ELP","T":41.6,"v":14100},{"s":"M-ELP","T":44.5,"v":14500},{"s":"M-ELP","T":47,"v":12300},{"s":"M-ELP","T":49.3,"v":10500},{"s":"M-ELP","T":52.2,"v":8200},{"s":"M-ELP","T":55.5,"v":6800},
      {"s":"M-B₁-ELP","T":7.8,"v":0},{"s":"M-B₁-ELP","T":26,"v":0},{"s":"M-B₁-ELP","T":30,"v":2300},{"s":"M-B₁-ELP","T":34,"v":5500},{"s":"M-B₁-ELP","T":38,"v":9100},{"s":"M-B₁-ELP","T":41.6,"v":11400},{"s":"M-B₁-ELP","T":45.4,"v":12300},{"s":"M-B₁-ELP","T":49.3,"v":13200},{"s":"M-B₁-ELP","T":52.2,"v":14100},{"s":"M-B₁-ELP","T":55.5,"v":15000},
      {"s":"B₁-ELP","T":7.8,"v":0},{"s":"B₁-ELP","T":33,"v":0},{"s":"B₁-ELP","T":37.7,"v":1400},{"s":"B₁-ELP","T":41.6,"v":3600},{"s":"B₁-ELP","T":45.4,"v":5900},{"s":"B₁-ELP","T":49.3,"v":8200},{"s":"B₁-ELP","T":55.5,"v":10500},
      {"s":"ELP","T":7.8,"v":0},{"s":"ELP","T":33,"v":0},{"s":"ELP","T":37.7,"v":1400},{"s":"ELP","T":40.6,"v":4500},{"s":"ELP","T":43.5,"v":7700},{"s":"ELP","T":46.4,"v":10500},{"s":"ELP","T":49.3,"v":11400},{"s":"ELP","T":55.5,"v":12300},
      {"s":"B₂-ELP","T":7.8,"v":0},{"s":"B₂-ELP","T":37.7,"v":0},{"s":"B₂-ELP","T":42.5,"v":2300},{"s":"B₂-ELP","T":47.3,"v":4500},{"s":"B₂-ELP","T":55.5,"v":6800},
      {"s":"B₃-ELP","T":7.8,"v":0},{"s":"B₃-ELP","T":37.7,"v":0},{"s":"B₃-ELP","T":42.5,"v":1800},{"s":"B₃-ELP","T":47.3,"v":3200},{"s":"B₃-ELP","T":55.5,"v":4500}
    ],
    "eA": [{"T":43.5,"v":262000,"v2":240000},{"T":44.5,"v":91000,"v2":69000}]
  },
  "resolve": {"scale": {"x": "independent", "y": "independent", "color": "independent", "strokeDash": "independent", "fill": "independent", "stroke": "independent"}, "axis": {"x": "independent", "y": "independent"}, "legend": {"color": "independent", "strokeDash": "independent", "fill": "independent", "stroke": "independent"}},
  "columns": 1,
  "align": "none",
  "spacing": 11,
  "concat": [
    {
      "resolve": {"scale": {"x": "independent", "y": "independent", "color": "independent", "strokeDash": "independent", "fill": "independent", "stroke": "independent"}, "axis": {"x": "independent", "y": "independent"}, "legend": {"color": "independent", "strokeDash": "independent", "fill": "independent", "stroke": "independent"}},
      "hconcat": [
        {
          "width": 341, "height": 329,
          "view": {"stroke": null},
          "title": {"text": "a", "dx": -2, "dy": 17},
          "resolve": {"axis": {"x": "independent", "y": "independent"}},
          "layer": [
            {
              "data": {"name": "aB"},
              "mark": {"type": "area", "interpolate": "monotone", "opacity": 0.9},
              "encoding": {
                "x": {"field": "t", "type": "quantitative", "scale": {"type": "log", "domain": [0.87, 100000], "nice": false, "range": [11, 341]}, "axis": {"orient": "bottom", "values": [1, 10, 100, 1000, 10000, 100000], "labelExpr": "'10' + ['⁰','¹','²','³','⁴','⁵'][round(log(datum.value)/LN10)]", "title": "τ (μs)", "titleFontSize": 22, "labelFontSize": 13, "tickSize": 5, "labelPadding": 2, "titlePadding": 3}},
                "y": {"field": "lo", "type": "quantitative", "scale": {"domain": [1, 2], "nice": false}, "axis": {"orient": "left", "offset": -11, "values": [1, 1.5, 2], "format": ".1f", "title": "g₂t (a.u.)", "titleFontSize": 21, "labelFontSize": 13, "tickSize": 4, "labelPadding": 1, "titlePadding": 2}},
                "y2": {"field": "hi"},
                "fill": {"field": "s", "type": "nominal", "scale": {"domain": ["M-B₂-ELP", "M-B₁-ELP"], "range": ["#b4b7e0", "#c8e4c0"]}, "legend": null}
              }
            },
            {
              "data": {"name": "aL"},
              "mark": {"type": "line", "interpolate": "monotone", "strokeWidth": 1.6},
              "encoding": {
                "x": {"field": "t", "type": "quantitative", "axis": {"orient": "top", "labels": false, "ticks": false, "title": null, "domain": true}},
                "y": {"field": "g", "type": "quantitative", "axis": {"orient": "right", "labels": false, "ticks": false, "title": null, "domain": true}},
                "color": {"field": "s", "type": "nominal", "scale": {"domain": ["B₁-ELP", "B₂-ELP", "B₃-ELP", "ELP", "M-B₁-ELP", "M-B₂-ELP", "M-B₃-ELP", "M-ELP"], "range": ["#1f8a3e", "#3b52a8", "#ee1c25", "#000000", "#1f8a3e", "#3b52a8", "#ee1c25", "#000000"]}, "legend": {"title": null, "orient": "top-right", "columns": 2, "gridAlign": "each", "labelFontSize": 14, "symbolSize": 300, "rowPadding": 7, "columnPadding": 10, "offset": 3, "padding": 0, "labelOffset": 6}},
                "strokeDash": {"field": "s", "type": "nominal", "scale": {"domain": ["B₁-ELP", "B₂-ELP", "B₃-ELP", "ELP", "M-B₁-ELP", "M-B₂-ELP", "M-B₃-ELP", "M-ELP"], "range": [[5, 3], [5, 3], [5, 3], [5, 3], [1, 0], [1, 0], [1, 0], [1, 0]]}, "legend": {"title": null, "orient": "top-right", "columns": 2, "gridAlign": "each", "labelFontSize": 14, "symbolSize": 300, "rowPadding": 7, "columnPadding": 10, "offset": 3, "padding": 0, "labelOffset": 6}}
              }
            }
          ]
        },
        {
          "bounds": "flush",
          "spacing": 3,
          "resolve": {"scale": {"x": "independent", "y": "independent", "color": "independent", "strokeDash": "independent"}, "axis": {"x": "independent", "y": "independent"}, "legend": {"color": "independent", "strokeDash": "independent"}},
          "vconcat": [
            {
              "width": 330, "height": 82,
              "title": {"text": "b", "dx": -24, "dy": 11},
              "data": {"name": "b1"},
              "mark": {"type": "line", "interpolate": "monotone", "strokeWidth": 1.6},
              "encoding": {
                "x": {"field": "w", "type": "quantitative", "scale": {"domain": [1400, 1751], "reverse": true, "nice": false}, "axis": {"values": [1700, 1600, 1500, 1400], "labels": false, "title": null, "tickSize": 3, "domain": false}},
                "y": {"field": "v", "type": "quantitative", "scale": {"domain": [0, 1]}, "axis": {"title": "Normalized Absorbance (a.u.)", "labels": false, "ticks": false, "domain": false, "titleFontSize": 21, "titleY": 168, "titlePadding": 10}},
                "color": {"field": "s", "type": "nominal", "scale": {"domain": ["M-B₁-ELP", "B₁-ELP", "M-B₁"], "range": ["#1f8a3e", "#1f8a3e", "#6b6b6b"]}, "legend": {"title": null, "orient": "top-right", "labelFontSize": 13, "symbolSize": 225, "rowPadding": 1, "offset": 0, "padding": 0}},
                "strokeDash": {"field": "s", "type": "nominal", "scale": {"domain": ["M-B₁-ELP", "B₁-ELP", "M-B₁"], "range": [[1, 0], [5, 3], [1, 0]]}, "legend": {"title": null, "orient": "top-right", "labelFontSize": 13, "symbolSize": 225, "rowPadding": 1, "offset": 0, "padding": 0}}
              }
            },
            {
              "width": 330, "height": 82,
              "data": {"name": "b2"},
              "mark": {"type": "line", "interpolate": "monotone", "strokeWidth": 1.6},
              "encoding": {
                "x": {"field": "w", "type": "quantitative", "scale": {"domain": [1400, 1751], "reverse": true, "nice": false}, "axis": {"values": [1700, 1600, 1500, 1400], "labels": false, "title": null, "tickSize": 3, "domain": false}},
                "y": {"field": "v", "type": "quantitative", "scale": {"domain": [0, 1]}, "axis": null},
                "color": {"field": "s", "type": "nominal", "scale": {"domain": ["M-B₂-ELP", "B₂-ELP", "M-B₂"], "range": ["#3b52a8", "#3b52a8", "#6b6b6b"]}, "legend": {"title": null, "orient": "top-right", "labelFontSize": 13, "symbolSize": 225, "rowPadding": 1, "offset": 0, "padding": 0}},
                "strokeDash": {"field": "s", "type": "nominal", "scale": {"domain": ["M-B₂-ELP", "B₂-ELP", "M-B₂"], "range": [[1, 0], [5, 3], [1, 0]]}, "legend": {"title": null, "orient": "top-right", "labelFontSize": 13, "symbolSize": 225, "rowPadding": 1, "offset": 0, "padding": 0}}
              }
            },
            {
              "width": 330, "height": 82,
              "data": {"name": "b3"},
              "mark": {"type": "line", "interpolate": "monotone", "strokeWidth": 1.6},
              "encoding": {
                "x": {"field": "w", "type": "quantitative", "scale": {"domain": [1400, 1751], "reverse": true, "nice": false}, "axis": {"values": [1700, 1600, 1500, 1400], "labels": false, "title": null, "tickSize": 3, "domain": false}},
                "y": {"field": "v", "type": "quantitative", "scale": {"domain": [0, 1]}, "axis": null},
                "color": {"field": "s", "type": "nominal", "scale": {"domain": ["M-B₃-ELP", "B₃-ELP", "M-B₃"], "range": ["#ee1c25", "#ee1c25", "#6b6b6b"]}, "legend": {"title": null, "orient": "top-right", "labelFontSize": 13, "symbolSize": 225, "rowPadding": 1, "offset": 0, "padding": 0}},
                "strokeDash": {"field": "s", "type": "nominal", "scale": {"domain": ["M-B₃-ELP", "B₃-ELP", "M-B₃"], "range": [[1, 0], [5, 3], [1, 0]]}, "legend": {"title": null, "orient": "top-right", "labelFontSize": 13, "symbolSize": 225, "rowPadding": 1, "offset": 0, "padding": 0}}
              }
            },
            {
              "width": 330, "height": 82,
              "data": {"name": "b4"},
              "mark": {"type": "line", "interpolate": "monotone", "strokeWidth": 1.6},
              "encoding": {
                "x": {"field": "w", "type": "quantitative", "scale": {"domain": [1400, 1751], "reverse": true, "nice": false}, "axis": {"values": [1700, 1600, 1500, 1400], "format": "d", "title": "Wavenumber (cm⁻¹)", "titleFontSize": 21, "labelFontSize": 12, "tickSize": 4, "labelPadding": 2, "titlePadding": 4}},
                "y": {"field": "v", "type": "quantitative", "scale": {"domain": [0, 1]}, "axis": null},
                "color": {"field": "s", "type": "nominal", "scale": {"domain": ["M-ELP", "ELP"], "range": ["#000000", "#000000"]}, "legend": {"title": null, "orient": "top-right", "labelFontSize": 13, "symbolSize": 225, "rowPadding": 1, "offset": 0, "padding": 0}},
                "strokeDash": {"field": "s", "type": "nominal", "scale": {"domain": ["M-ELP", "ELP"], "range": [[1, 0], [5, 3]]}, "legend": {"title": null, "orient": "top-right", "labelFontSize": 13, "symbolSize": 225, "rowPadding": 1, "offset": 0, "padding": 0}}
              }
            }
          ]
        }
      ],
      "spacing": 19
    },
    {
      "resolve": {"scale": {"x": "independent", "y": "independent", "color": "independent", "strokeDash": "independent", "fill": "independent", "stroke": "independent"}, "axis": {"x": "independent", "y": "independent"}, "legend": {"color": "independent", "strokeDash": "independent", "fill": "independent", "stroke": "independent"}},
      "hconcat": [
        {
          "bounds": "flush",
          "spacing": 3,
          "resolve": {"scale": {"x": "independent", "y": "independent", "color": "independent", "strokeDash": "independent"}, "axis": {"x": "independent", "y": "independent"}, "legend": {"color": "independent", "strokeDash": "independent"}},
          "vconcat": [
            {
              "width": 330, "height": 25,
              "view": {"stroke": null},
              "title": {"text": "c", "dx": -35, "dy": 36},
              "data": {"name": "cA"},
              "layer": [
                {"mark": {"type": "rule", "strokeWidth": 2.5, "color": "#000000"}, "encoding": {"x": {"field": "w", "type": "quantitative", "scale": {"domain": [1300, 1800], "reverse": true, "nice": false}, "axis": null}, "y": {"field": "y1", "type": "quantitative", "scale": {"domain": [0, 1]}, "axis": null}, "y2": {"field": "y2"}}},
                {"mark": {"type": "point", "shape": "triangle-down", "filled": true, "size": 90, "color": "#000000", "opacity": 1}, "encoding": {"x": {"field": "w", "type": "quantitative"}, "y": {"field": "y2", "type": "quantitative"}}}
              ]
            },
            {
              "width": 330, "height": 83,
              "data": {"name": "c1"},
              "mark": {"type": "line", "interpolate": "monotone", "strokeWidth": 1.8},
              "encoding": {
                "x": {"field": "w", "type": "quantitative", "scale": {"domain": [1300, 1800], "reverse": true, "nice": false}, "axis": {"values": [1700, 1600, 1500, 1400], "labels": false, "title": null, "tickSize": 4, "domain": false}},
                "y": {"field": "v", "type": "quantitative", "scale": {"domain": [0, 1]}, "axis": {"title": "Absorbance (a.u.)", "labels": false, "ticks": false, "domain": false, "titleFontSize": 21, "titleY": 155, "titlePadding": 3}},
                "color": {"field": "s", "type": "nominal", "scale": {"domain": ["M-B₁-ELP 30°C", "M-B₁-ELP 50°C"], "range": ["#1f8a3e", "#1f8a3e"]}, "legend": {"title": null, "orient": "top-right", "labelFontSize": 13, "symbolSize": 225, "rowPadding": 0, "offset": 8, "padding": 0}},
                "strokeDash": {"field": "s", "type": "nominal", "scale": {"domain": ["M-B₁-ELP 30°C", "M-B₁-ELP 50°C"], "range": [[2, 3], [1, 0]]}, "legend": {"title": null, "orient": "top-right", "labelFontSize": 13, "symbolSize": 225, "rowPadding": 0, "offset": 8, "padding": 0}}
              }
            },
            {
              "width": 330, "height": 83,
              "data": {"name": "c2"},
              "mark": {"type": "line", "interpolate": "monotone", "strokeWidth": 1.8},
              "encoding": {
                "x": {"field": "w", "type": "quantitative", "scale": {"domain": [1300, 1800], "reverse": true, "nice": false}, "axis": {"values": [1700, 1600, 1500, 1400], "labels": false, "title": null, "tickSize": 4, "domain": false}},
                "y": {"field": "v", "type": "quantitative", "scale": {"domain": [0, 1]}, "axis": null},
                "color": {"field": "s", "type": "nominal", "scale": {"domain": ["M-B₂-ELP 30°C", "M-B₂-ELP 50°C"], "range": ["#3b52a8", "#3b52a8"]}, "legend": {"title": null, "orient": "top-right", "labelFontSize": 13, "symbolSize": 225, "rowPadding": 0, "offset": 8, "padding": 0}},
                "strokeDash": {"field": "s", "type": "nominal", "scale": {"domain": ["M-B₂-ELP 30°C", "M-B₂-ELP 50°C"], "range": [[2, 3], [1, 0]]}, "legend": {"title": null, "orient": "top-right", "labelFontSize": 13, "symbolSize": 225, "rowPadding": 0, "offset": 8, "padding": 0}}
              }
            },
            {
              "width": 330, "height": 83,
              "data": {"name": "c3"},
              "mark": {"type": "line", "interpolate": "monotone", "strokeWidth": 1.8},
              "encoding": {
                "x": {"field": "w", "type": "quantitative", "scale": {"domain": [1300, 1800], "reverse": true, "nice": false}, "axis": {"values": [1700, 1600, 1500, 1400], "labels": false, "title": null, "tickSize": 4, "domain": false}},
                "y": {"field": "v", "type": "quantitative", "scale": {"domain": [0, 1]}, "axis": null},
                "color": {"field": "s", "type": "nominal", "scale": {"domain": ["M-B₃-ELP 30°C", "M-B₃-ELP 50°C"], "range": ["#ee1c25", "#ee1c25"]}, "legend": {"title": null, "orient": "top-right", "labelFontSize": 13, "symbolSize": 225, "rowPadding": 0, "offset": 8, "padding": 0}},
                "strokeDash": {"field": "s", "type": "nominal", "scale": {"domain": ["M-B₃-ELP 30°C", "M-B₃-ELP 50°C"], "range": [[2, 3], [1, 0]]}, "legend": {"title": null, "orient": "top-right", "labelFontSize": 13, "symbolSize": 225, "rowPadding": 0, "offset": 8, "padding": 0}}
              }
            },
            {
              "width": 330, "height": 83,
              "data": {"name": "c4"},
              "mark": {"type": "line", "interpolate": "monotone", "strokeWidth": 1.8},
              "encoding": {
                "x": {"field": "w", "type": "quantitative", "scale": {"domain": [1300, 1800], "reverse": true, "nice": false}, "axis": {"values": [1800, 1700, 1600, 1500, 1400, 1300], "format": "d", "title": "Wavenumber (cm⁻¹)", "titleFontSize": 21, "labelFontSize": 13, "tickSize": 4, "labelPadding": 4, "titlePadding": 4}},
                "y": {"field": "v", "type": "quantitative", "scale": {"domain": [0, 1]}, "axis": null},
                "color": {"field": "s", "type": "nominal", "scale": {"domain": ["M-ELP 30°C", "M-ELP 50°C"], "range": ["#000000", "#000000"]}, "legend": {"title": null, "orient": "top-right", "labelFontSize": 13, "symbolSize": 225, "rowPadding": 0, "offset": 8, "padding": 0}},
                "strokeDash": {"field": "s", "type": "nominal", "scale": {"domain": ["M-ELP 30°C", "M-ELP 50°C"], "range": [[2, 3], [1, 0]]}, "legend": {"title": null, "orient": "top-right", "labelFontSize": 13, "symbolSize": 225, "rowPadding": 0, "offset": 8, "padding": 0}}
              }
            }
          ]
        },
        {
          "bounds": "flush",
          "spacing": 54,
          "resolve": {"scale": {"x": "independent", "y": "independent", "color": "independent", "strokeDash": "independent", "fill": "independent", "stroke": "independent"}, "axis": {"x": "independent", "y": "independent"}, "legend": {"color": "independent", "strokeDash": "independent", "fill": "independent", "stroke": "independent"}},
          "vconcat": [
            {
              "width": 331, "height": 115,
              "title": {"text": "d", "dx": -17, "dy": 32},
              "resolve": {"axis": {"y": "independent"}},
              "layer": [
                {
                  "data": {"name": "d"},
                  "mark": {"type": "bar", "strokeWidth": 1},
                  "encoding": {
                    "x": {"field": "cat", "type": "nominal", "scale": {"domain": ["PBS", "No ThT", "B₁-ELP", "M-B₁-ELP", "B₂-ELP", "M-B₂-ELP", "B₃-ELP", "M-B₃-ELP", "ELP", "M-ELP"], "paddingInner": 0.38, "paddingOuter": 0.2}, "axis": {"title": null, "labelAngle": -40, "labelFontSize": 11, "labelAlign": "right", "labelBaseline": "top", "tickSize": 5, "labelPadding": 2}},
                    "y": {"field": "v", "type": "quantitative", "scale": {"domain": [0, 150, 1000, 2000], "range": [115, 30, 18, 0]}, "axis": {"orient": "left", "values": [0, 100, 1000], "format": "d", "title": "Intensity (RFU)", "titleFontSize": 17, "labelFontSize": 10, "tickSize": 4, "labelPadding": 2, "titlePadding": 8}},
                    "color": {
                      "condition": [
                        {"test": "datum.cat === 'B₁-ELP'", "value": {"gradient": "linear", "x1": 0, "y1": 0, "x2": 1, "y2": 1, "stops": [{"offset": 0, "color": "#0e7a3a"}, {"offset": 0.125, "color": "#0e7a3a"}, {"offset": 0.125, "color": "#ffffff"}, {"offset": 0.25, "color": "#ffffff"}, {"offset": 0.25, "color": "#0e7a3a"}, {"offset": 0.375, "color": "#0e7a3a"}, {"offset": 0.375, "color": "#ffffff"}, {"offset": 0.5, "color": "#ffffff"}, {"offset": 0.5, "color": "#0e7a3a"}, {"offset": 0.625, "color": "#0e7a3a"}, {"offset": 0.625, "color": "#ffffff"}, {"offset": 0.75, "color": "#ffffff"}, {"offset": 0.75, "color": "#0e7a3a"}, {"offset": 0.875, "color": "#0e7a3a"}, {"offset": 0.875, "color": "#ffffff"}, {"offset": 1, "color": "#ffffff"}]}},
                        {"test": "datum.cat === 'B₂-ELP'", "value": {"gradient": "linear", "x1": 0, "y1": 0, "x2": 1, "y2": 1, "stops": [{"offset": 0, "color": "#2e3f96"}, {"offset": 0.125, "color": "#2e3f96"}, {"offset": 0.125, "color": "#ffffff"}, {"offset": 0.25, "color": "#ffffff"}, {"offset": 0.25, "color": "#2e3f96"}, {"offset": 0.375, "color": "#2e3f96"}, {"offset": 0.375, "color": "#ffffff"}, {"offset": 0.5, "color": "#ffffff"}, {"offset": 0.5, "color": "#2e3f96"}, {"offset": 0.625, "color": "#2e3f96"}, {"offset": 0.625, "color": "#ffffff"}, {"offset": 0.75, "color": "#ffffff"}, {"offset": 0.75, "color": "#2e3f96"}, {"offset": 0.875, "color": "#2e3f96"}, {"offset": 0.875, "color": "#ffffff"}, {"offset": 1, "color": "#ffffff"}]}},
                        {"test": "datum.cat === 'B₃-ELP'", "value": {"gradient": "linear", "x1": 0, "y1": 0, "x2": 1, "y2": 1, "stops": [{"offset": 0, "color": "#ec1c24"}, {"offset": 0.125, "color": "#ec1c24"}, {"offset": 0.125, "color": "#ffffff"}, {"offset": 0.25, "color": "#ffffff"}, {"offset": 0.25, "color": "#ec1c24"}, {"offset": 0.375, "color": "#ec1c24"}, {"offset": 0.375, "color": "#ffffff"}, {"offset": 0.5, "color": "#ffffff"}, {"offset": 0.5, "color": "#ec1c24"}, {"offset": 0.625, "color": "#ec1c24"}, {"offset": 0.625, "color": "#ffffff"}, {"offset": 0.75, "color": "#ffffff"}, {"offset": 0.75, "color": "#ec1c24"}, {"offset": 0.875, "color": "#ec1c24"}, {"offset": 0.875, "color": "#ffffff"}, {"offset": 1, "color": "#ffffff"}]}},
                        {"test": "datum.cat === 'ELP'", "value": {"gradient": "linear", "x1": 0, "y1": 0, "x2": 1, "y2": 1, "stops": [{"offset": 0, "color": "#000000"}, {"offset": 0.125, "color": "#000000"}, {"offset": 0.125, "color": "#ffffff"}, {"offset": 0.25, "color": "#ffffff"}, {"offset": 0.25, "color": "#000000"}, {"offset": 0.375, "color": "#000000"}, {"offset": 0.375, "color": "#ffffff"}, {"offset": 0.5, "color": "#ffffff"}, {"offset": 0.5, "color": "#000000"}, {"offset": 0.625, "color": "#000000"}, {"offset": 0.625, "color": "#ffffff"}, {"offset": 0.75, "color": "#ffffff"}, {"offset": 0.75, "color": "#000000"}, {"offset": 0.875, "color": "#000000"}, {"offset": 0.875, "color": "#ffffff"}, {"offset": 1, "color": "#ffffff"}]}}
                      ],
                      "field": "cat", "type": "nominal",
                      "scale": {"domain": ["PBS", "No ThT", "B₁-ELP", "M-B₁-ELP", "B₂-ELP", "M-B₂-ELP", "B₃-ELP", "M-B₃-ELP", "ELP", "M-ELP"], "range": ["#d3d3d3", "#f2f2f2", "#ffffff", "#0e7a3a", "#ffffff", "#2e3f96", "#ffffff", "#ec1c24", "#ffffff", "#000000"]},
                      "legend": null
                    },
                    "stroke": {"field": "cat", "type": "nominal", "scale": {"domain": ["PBS", "No ThT", "B₁-ELP", "M-B₁-ELP", "B₂-ELP", "M-B₂-ELP", "B₃-ELP", "M-B₃-ELP", "ELP", "M-ELP"], "range": ["#d3d3d3", "#d0d0d0", "#0e7a3a", "#0e7a3a", "#2e3f96", "#2e3f96", "#ec1c24", "#ec1c24", "#000000", "#000000"]}, "legend": null}
                  }
                },
                {
                  "data": {"name": "dGap"},
                  "mark": {"type": "rect", "color": "#ffffff"},
                  "encoding": {"x": {"field": "cat", "type": "nominal"}, "y": {"field": "lo", "type": "quantitative", "axis": null}, "y2": {"field": "hi"}}
                },
                {
                  "data": {"name": "d"},
                  "mark": {"type": "rule", "strokeWidth": 1.5, "color": "#000000"},
                  "encoding": {"x": {"field": "cat", "type": "nominal"}, "y": {"field": "v", "type": "quantitative", "axis": {"orient": "left", "values": [50, 150, 2000], "format": "d", "title": null, "labelFontSize": 10, "tickSize": 4, "labelPadding": 2, "domain": false}}, "y2": {"field": "hi"}}
                },
                {
                  "data": {"name": "d"},
                  "mark": {"type": "tick", "orient": "horizontal", "color": "#000000", "thickness": 2, "size": 10},
                  "encoding": {"x": {"field": "cat", "type": "nominal"}, "y": {"field": "hi", "type": "quantitative", "axis": null}}
                }
              ]
            },
            {
              "width": 331, "height": 220,
              "title": {"text": "e", "dx": -17, "dy": -10},
              "layer": [
                {
                  "data": {"name": "e"},
                  "mark": {"type": "line", "interpolate": "monotone", "strokeWidth": 1.6, "clip": true},
                  "encoding": {
                    "x": {"field": "T", "type": "quantitative", "scale": {"domain": [7.7, 55.5], "nice": false}, "axis": {"values": [10, 20, 30, 40, 50], "title": "Temperature (°C)", "titleFontSize": 21, "labelFontSize": 13, "tickSize": 5, "labelPadding": 3, "titlePadding": 6}},
                    "y": {"field": "v", "type": "quantitative", "scale": {"domain": [0, 300000], "nice": false}, "axis": {"values": [0, 100000, 200000, 300000], "labelExpr": "datum.value == 0 ? '0' : (datum.value/100000) + '×10⁵'", "title": "Intensity (RFU)", "titleFontSize": 21, "labelFontSize": 13, "tickSize": 5, "labelPadding": 2, "titlePadding": 2}},
                    "color": {"field": "s", "type": "nominal", "scale": {"domain": ["B₁-ELP", "B₂-ELP", "B₃-ELP", "ELP", "M-B₁-ELP", "M-B₂-ELP", "M-B₃-ELP", "M-ELP"], "range": ["#1f8a3e", "#3b52a8", "#ee1c25", "#000000", "#1f8a3e", "#3b52a8", "#ee1c25", "#000000"]}, "legend": {"title": null, "orient": "top-left", "columns": 2, "labelFontSize": 14, "symbolSize": 200, "rowPadding": 0, "columnPadding": 10, "offset": 0, "padding": 0}},
                    "strokeDash": {"field": "s", "type": "nominal", "scale": {"domain": ["B₁-ELP", "B₂-ELP", "B₃-ELP", "ELP", "M-B₁-ELP", "M-B₂-ELP", "M-B₃-ELP", "M-ELP"], "range": [[4, 3], [4, 3], [4, 3], [4, 3], [1, 0], [1, 0], [1, 0], [1, 0]]}, "legend": {"title": null, "orient": "top-left", "columns": 2, "labelFontSize": 14, "symbolSize": 200, "rowPadding": 0, "columnPadding": 10, "offset": 0, "padding": 0}}
                  }
                },
                {
                  "data": {"name": "eA"},
                  "mark": {"type": "rule", "strokeWidth": 2.5, "color": "#000000"},
                  "encoding": {"x": {"field": "T", "type": "quantitative"}, "y": {"field": "v", "type": "quantitative"}, "y2": {"field": "v2"}}
                },
                {
                  "data": {"name": "eA"},
                  "mark": {"type": "point", "shape": "triangle-down", "filled": true, "size": 90, "color": "#000000", "opacity": 1},
                  "encoding": {"x": {"field": "T", "type": "quantitative"}, "y": {"field": "v2", "type": "quantitative"}}
                }
              ]
            }
          ]
        }
      ],
      "spacing": 3
    }
  ]
}
